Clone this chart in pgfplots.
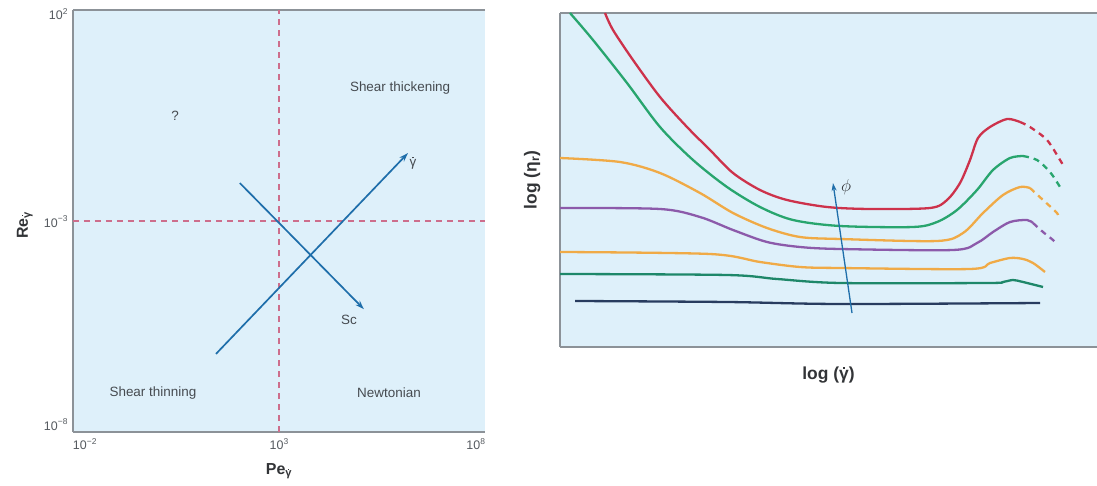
\documentclass[border=0pt]{standalone}
\usepackage{pgfplots}
\pgfplotsset{compat=1.18}
\usepackage{amsmath}
\usepackage{fontspec}
\setmainfont{Liberation Sans}
\usetikzlibrary{arrows.meta}
\definecolor{bgblue}{RGB}{222,240,250}
\definecolor{axgray}{RGB}{140,146,152}
\definecolor{tickgray}{RGB}{85,90,95}
\definecolor{txtgray}{RGB}{70,75,80}
\definecolor{lblgray}{RGB}{50,52,55}
\definecolor{dashred}{RGB}{205,110,140}
\definecolor{arrblue}{RGB}{30,110,170}
\definecolor{cred}{RGB}{205,50,75}
\definecolor{cgreen}{RGB}{40,165,110}
\definecolor{corange}{RGB}{240,170,70}
\definecolor{cpurple}{RGB}{140,90,170}
\definecolor{cteal}{RGB}{30,135,105}
\definecolor{cnavy}{RGB}{40,60,95}
% gamma with a dot made of a rule (no overlapping glyphs)
\newcommand\gd{\ooalign{γ\cr\hidewidth\raisebox{0.62em}{\rule{0.12em}{0.12em}}\hidewidth\cr}}
\newcommand\tl[2]{#1\raisebox{0.8ex}{\fontsize{8.5}{9}\selectfont #2}}
\begin{document}
\begin{tikzpicture}
\useasboundingbox (0,0) rectangle (1097bp,486bp);
% ---------------- left panel ----------------
\begin{axis}[
  at={(73bp,54bp)}, anchor=south west,
  scale only axis, width=412bp, height=422bp,
  xmode=log, ymode=log,
  xmin=1e-2, xmax=1e8, ymin=1e-8, ymax=1e2,
  axis background/.style={fill=bgblue},
  axis x line*=box, axis y line*=left,
  axis line style={draw=axgray, line width=2.4bp},
  major tick length=0pt, minor tick num=0,
  xtick={1e-2,1e3,1e8},
  xticklabels={\rlap{\tl{10}{−2}},\tl{10}{3},\llap{\tl{10}{8}}},
  ytick={1e-8,1e-3,1e2},
  yticklabels={\smash{\raisebox{2bp}{\tl{10}{−8}}},\smash{\raisebox{-6bp}{\tl{10}{−3}}},\smash{\raisebox{-10bp}{\tl{10}{2}}}},
  tick label style={font=\fontsize{12.5}{13}\selectfont, text=tickgray},
  xticklabel style={yshift=-3bp},
  yticklabel style={xshift=-2bp},
  xlabel={\textbf{Pe$_{\text{\gd}}$}},
  ylabel={\textbf{Re$_{\text{\gd}}$}},
  label style={font=\bfseries\fontsize{16}{17}\selectfont, text=lblgray},
  xlabel style={at={(axis description cs:0.5,-0.09)}, anchor=center},
  ylabel style={at={(axis description cs:-0.12,0.49)}, anchor=center},
  clip=false,
]
\addplot[dashred, line width=1.1bp, dash pattern=on 6bp off 5bp] coordinates {(1e3,1e-8) (1e3,1e2)};
\addplot[dashred, line width=1.1bp, dash pattern=on 6bp off 5bp] coordinates {(1e-2,1e-3) (1e8,1e-3)};
\addplot[arrblue, line width=1.7bp, -{Stealth[length=9bp,width=6bp]}] coordinates {(29.5,7.08e-7) (1.35e6,0.0407)};
\addplot[arrblue, line width=1.7bp, -{Stealth[length=9bp,width=6bp]}] coordinates {(112,7.94e-3) (1.15e5,8.13e-6)};
\node[font=\fontsize{13.5}{14}\selectfont, text=txtgray] at (axis cs:8.71e5,1.41) {Shear thickening};
\node[font=\fontsize{13.5}{14}\selectfont, text=txtgray] at (axis cs:3.02,0.309) {?};
\node[font=\fontsize{13.5}{14}\selectfont, text=txtgray] at (axis cs:0.871,8.32e-8) {Shear thinning};
\node[font=\fontsize{13.5}{14}\selectfont, text=txtgray] at (axis cs:4.68e5,8.32e-8) {Newtonian};
\node[font=\fontsize{13.5}{14}\selectfont, text=txtgray] at (axis cs:5.01e4,4.47e-6) {Sc};
\node[font=\fontsize{13.5}{14}\selectfont, text=txtgray] at (axis cs:1.78e6,0.0234) {\gd};
\end{axis}
% ---------------- right panel ----------------
\begin{axis}[
  at={(560bp,139bp)}, anchor=south west,
  scale only axis, width=537bp, height=334bp,
  xmin=560, xmax=1097, ymin=0, ymax=334,
  axis background/.style={fill=bgblue},
  axis x line*=box, axis y line*=left,
  axis line style={draw=axgray, line width=2.2bp},
  xtick=\empty, ytick=\empty,
  xlabel={log (\gd)},
  ylabel={log (η\textsubscript{r})},
  label style={font=\bfseries\fontsize{17.5}{18}\selectfont, text=lblgray},
  xlabel style={at={(axis description cs:0.5,-0.084)}, anchor=center},
  ylabel style={at={(axis description cs:-0.052,0.5)}, anchor=center},
  every axis plot/.append style={line width=2.3bp, smooth, tension=0.5},
]
% red
\addplot[cred] coordinates {(605,334) (613,317) (633,287) (660,250) (687,220) (710,197) (733,174) (760,157) (787,147) (827,140) (870,138) (930,139) (947,147) (960,164) (970,187) (978,209) (990,220) (1007,228) (1020,225)};
\addplot[cred, dash pattern=on 6bp off 5bp] coordinates {(1020,225) (1030,220) (1047,207) (1060,187) (1063,182)};
% green
\addplot[cgreen] coordinates {(570,334) (593,307) (627,264) (660,220) (693,187) (727,160) (760,140) (793,127) (840,121) (913,120) (937,125) (957,137) (977,157) (993,177) (1010,189) (1023,191)};
\addplot[cgreen, dash pattern=on 6bp off 5bp] coordinates {(1023,191) (1037,187) (1050,175) (1060,160) (1062,156)};
% orange
\addplot[corange] coordinates {(560,189) (620,185) (660,174) (700,154) (733,134) (767,119) (800,110) (840,108) (937,106) (963,114) (983,134) (1003,152) (1020,160) (1030,159)};
\addplot[corange, dash pattern=on 6bp off 5bp] coordinates {(1030,159) (1043,147) (1057,134) (1058,129)};
% purple
\addplot[cpurple] coordinates {(560,139) (660,138) (700,130) (733,117) (767,105) (800,100) (840,98) (953,97) (977,104) (993,115) (1010,125) (1027,127) (1033,124)};
\addplot[cpurple, dash pattern=on 6bp off 5bp] coordinates {(1033,124) (1043,115) (1053,107) (1056,104)};
% orange 2
\addplot[corange] coordinates {(560,95) (710,93) (760,85) (800,80) (840,79) (970,78) (990,84) (1010,89) (1023,88) (1033,84) (1045,75)};
% teal
\addplot[cteal] coordinates {(560,73) (727,72) (777,68) (840,64) (987,64) (1003,65) (1013,67) (1023,65) (1043,60)};
% navy
\addplot[cnavy] coordinates {(575,46) (727,45) (840,43) (1040,44)};
% phi arrow
\addplot[arrblue, line width=1.3bp, sharp plot, -{Stealth[length=8bp,width=5bp]}] coordinates {(852,34) (833,164)};
\node[font=\fontsize{16}{17}\selectfont, text=lblgray] at (axis cs:846,160) {$\phi$};
\end{axis}
\end{tikzpicture}
\end{document}
